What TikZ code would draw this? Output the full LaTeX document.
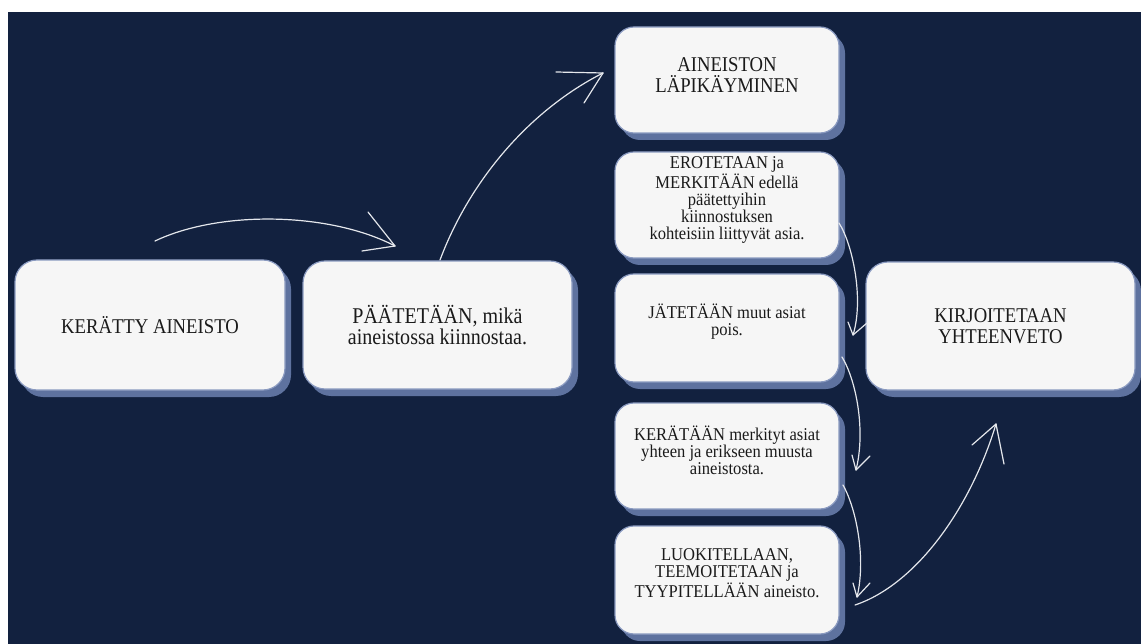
\documentclass[tikz,border=0pt]{standalone}
\usepackage{fontspec}
\newfontfamily\pf[FakeStretch=0.89]{Liberation Serif}
\newfontfamily\pfs[FakeStretch=0.92]{Liberation Serif}
\usetikzlibrary{shadows}
\definecolor{navy}{HTML}{12213F}
\definecolor{boxfill}{HTML}{F6F6F6}
\definecolor{boxedge}{HTML}{8A9AC0}
\definecolor{shadowc}{HTML}{5E729F}
\definecolor{chalk}{HTML}{E4E7EC}
\definecolor{ink}{HTML}{1A1A1A}
\begin{document}
\begin{tikzpicture}[x=1pt,y=1pt,
  box/.style={rounded corners=#1, fill=boxfill, draw=boxedge, line width=1.2pt,
    drop shadow={shadow xshift=6pt, shadow yshift=-7pt, fill=shadowc, opacity=1},
    inner sep=0pt},
  bigbox/.style={box=22pt, minimum width=269pt, minimum height=128pt},
  smallbox/.style={box=19pt, minimum width=224pt, minimum height=106pt},
  bigtxt/.style={font=\pf\fontsize{21}{20.5}\selectfont, align=center, text=ink, inner sep=0pt},
  midtxt/.style={font=\pf\fontsize{22.5}{21.5}\selectfont, align=center, text=ink, inner sep=0pt},
  smalltxt/.style={font=\pfs\fontsize{18}{17}\selectfont, align=center, text=ink, inner sep=0pt},
  chalkline/.style={draw=chalk, line width=1.2pt, line cap=round, line join=round}]
\useasboundingbox (0,0) rectangle (1141,-644);
\fill[white] (0,0) rectangle (1141,-644);
\fill[navy] (8,-12) rectangle (1141,-644);

% boxes
\node[bigbox, minimum width=270pt, minimum height=130pt] (b1) at (150,-325) {};
\node[bigbox] (b2) at (437.5,-325) {};
\node[smallbox] (b3) at (727,-80) {};
\node[smallbox] (b4) at (727,-205) {};
\node[smallbox, minimum height=108pt] (b5) at (727,-328) {};
\node[smallbox] (b6) at (727,-456) {};
\node[smallbox, minimum height=108pt] (b7) at (727,-580) {};
\node[bigbox] (b8) at (1000.5,-326) {};

% texts
\node[bigtxt] (t1) at (b1) {KERÄTTY AINEISTO};
\node[midtxt] (t2) at (b2) {PÄÄTETÄÄN, mikä\\aineistossa kiinnostaa.};
\node[bigtxt] (t3) at ([yshift=5pt]b3.center) {AINEISTON\\LÄPIKÄYMINEN};
\node[smalltxt] (t4) at ([yshift=5pt]b4.center) {EROTETAAN ja\\MERKITÄÄN edellä\\päätettyihin\\kiinnostuksen\\kohteisiin liittyvät asia.};
\node[smalltxt] (t5) at ([yshift=6pt]b5.center) {JÄTETÄÄN muut asiat\\pois.};
\node[smalltxt] (t6) at ([yshift=6pt]b6.center) {KERÄTÄÄN merkityt asiat\\yhteen ja erikseen muusta\\aineistosta.};
\node[smalltxt] (t7) at ([yshift=7pt]b7.center) {LUOKITELLAAN,\\TEEMOITETAAN ja\\TYYPITELLÄÄN aineisto.};
\node[bigtxt] (t8) at (b8) {KIRJOITETAAN\\YHTEENVETO};

% arrow end points
\coordinate (a1s) at (155,-241);  \coordinate (a1t) at (395,-246);
\coordinate (a2s) at (440,-260);  \coordinate (a2t) at (603,-73);
\coordinate (a3s) at (839,-223);  \coordinate (a3t) at (853,-335);
\coordinate (a4s) at (842,-357);  \coordinate (a4t) at (856,-470);
\coordinate (a5s) at (843,-485);  \coordinate (a5t) at (857,-597);
\coordinate (a6s) at (855,-605);  \coordinate (a6t) at (996,-424);

% arrows
\draw[chalkline] (a1s) .. controls (220,-210) and (330,-212) .. (a1t);
\draw[chalkline] (a1t) -- ++(-27,34);
\draw[chalkline] (a1t) -- ++(-33,-5);

\draw[chalkline] (a2s) .. controls (470,-180) and (530,-110) .. (a2t);
\draw[chalkline] (a2t) -- ++(-47,1);
\draw[chalkline] (a2t) -- ++(-19,-30);

\draw[chalkline] (a3s) .. controls (853,-245) and (864,-300) .. (a3t);
\draw[chalkline] (a3t) -- ++(14,12);
\draw[chalkline] (a3t) -- ++(-5,13);

\draw[chalkline] (a4s) .. controls (856,-380) and (866,-430) .. (a4t);
\draw[chalkline] (a4t) -- ++(14,14);
\draw[chalkline] (a4t) -- ++(-4,15);

\draw[chalkline] (a5s) .. controls (857,-510) and (866,-560) .. (a5t);
\draw[chalkline] (a5t) -- ++(13,14);
\draw[chalkline] (a5t) -- ++(-4,14);

\draw[chalkline] (a6s) .. controls (915,-585) and (970,-510) .. (a6t);
\draw[chalkline] (a6t) -- ++(-24,-21);
\draw[chalkline] (a6t) -- ++(8,-40);
\end{tikzpicture}
\end{document}
